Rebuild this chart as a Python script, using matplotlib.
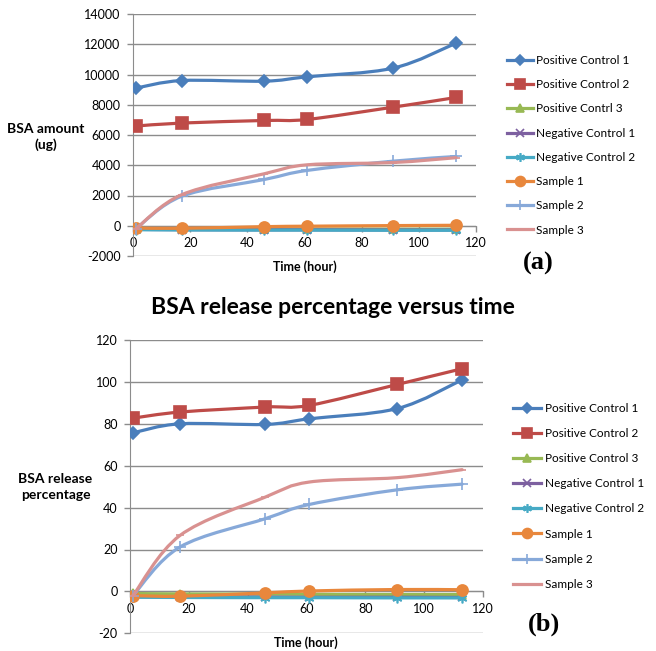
import numpy as np
import matplotlib
matplotlib.use("Agg")
import matplotlib.pyplot as plt
from matplotlib.path import Path
from matplotlib.patches import PathPatch
from matplotlib.lines import Line2D

plt.rcParams['font.family'] = ['Lato', 'DejaVu Sans']
plt.rcParams['axes.unicode_minus'] = False

# sampling times (hour)
hours = [1, 17, 46, 61, 91, 113]

names_a = ["Positive Control 1", "Positive Control 2", "Positive Contrl 3",
           "Negative Control 1", "Negative Control 2", "Sample 1", "Sample 2", "Sample 3"]
names_b = ["Positive Control 1", "Positive Control 2", "Positive Control 3",
           "Negative Control 1", "Negative Control 2", "Sample 1", "Sample 2", "Sample 3"]

# (a) BSA amount (ug)
pos1_amt = [9100, 9600, 9560, 9850, 10420, 12070]
pos2_amt = [6590, 6790, 6960, 7030, 7840, 8480]
pos3_amt = [-200, -210, -220, -220, -230, -230]
neg1_amt = [-240, -260, -270, -270, -280, -280]
neg2_amt = [-260, -280, -290, -290, -300, -300]
smp1_amt = [-150, -170, -60, -30, 10, 30]
smp2_amt = [-200, 1950, 3060, 3660, 4270, 4580]
smp3_amt = [-200, 2050, 3440, 4030, 4180, 4500]

# (b) BSA release percentage
pos1_pct = [75.7, 80.0, 79.7, 82.4, 87.3, 101.0]
pos2_pct = [82.7, 85.6, 88.0, 88.8, 98.8, 106.3]
pos3_pct = [-1.0, -1.2, -1.3, -1.4, -1.5, -1.5]
neg1_pct = [-2.5, -2.6, -2.7, -2.8, -2.8, -2.9]
neg2_pct = [-2.8, -2.9, -3.0, -3.0, -3.1, -3.1]
smp1_pct = [-2.0, -2.3, -0.7, 0.2, 0.9, 0.8]
smp2_pct = [-2.0, 21.2, 34.7, 41.5, 48.5, 51.2]
smp3_pct = [-2.0, 26.7, 45.0, 52.2, 54.3, 58.1]

colors = ["#4A7EBB", "#BE4B48", "#98B954", "#7D60A0", "#46AAC5", "#E8873C", "#87A9D9", "#D99190"]
markers = ["D", "s", "^", "x", (6, 2, 0), "o", "+", "_"]
msizes = [6, 8, 6, 6, 7, 8, 8, 6]
GRID = "#8C8C8C"


def smooth_path(x, y):
    # excel-like smoothed line (catmull-rom -> bezier)
    pts = np.column_stack([x, y]).astype(float)
    n = len(pts)
    verts = [pts[0]]
    codes = [Path.MOVETO]
    for i in range(n - 1):
        p0 = pts[max(i - 1, 0)]
        p1 = pts[i]
        p2 = pts[i + 1]
        p3 = pts[min(i + 2, n - 1)]
        verts += [p1 + (p2 - p0) / 6, p2 - (p3 - p1) / 6, p2]
        codes += [Path.CURVE4] * 3
    return Path(verts, codes)


def draw_panel(ax, series, names, ymin, ymax, ystep, ylabel, ylab_xy, tlab_y, leg_xy, handlelen, labsp):
    for i, vals in enumerate(series):
        patch = PathPatch(smooth_path(hours, vals), fill=False, edgecolor=colors[i],
                          lw=2.3, capstyle="round", joinstyle="round", zorder=3 + i)
        ax.add_patch(patch)
        ax.plot(hours, vals, ls="none", marker=markers[i], ms=msizes[i], color=colors[i],
                mec=colors[i], mew=1.2, zorder=3 + i)

    ax.set_xlim(0, 120)
    ax.set_ylim(ymin, ymax)
    ax.set_xticks(range(0, 121, 20))
    ax.set_yticks(range(ymin, ymax + 1, ystep))
    ax.yaxis.grid(True, color=GRID, lw=1.0)
    ax.set_axisbelow(True)
    for s in ["top", "right"]:
        ax.spines[s].set_visible(False)
    ax.spines["bottom"].set_position(("data", 0))
    ax.spines["bottom"].set_color(GRID)
    ax.spines["left"].set_color(GRID)
    ax.tick_params(axis="both", colors=GRID, labelcolor="black", labelsize=9, length=4, width=1)
    ax.tick_params(axis="y", pad=5)
    ax.tick_params(axis="x", pad=4)

    ax.text(0.5, tlab_y, "Time (hour)", transform=ax.transAxes, ha="center", va="center",
            fontsize=9, fontweight="bold")
    fig.text(ylab_xy[0], ylab_xy[1], ylabel, ha="center", va="center", fontsize=10,
             fontweight="bold", linespacing=1.35)

    handles = [Line2D([], [], color=colors[i], lw=2.3, marker=markers[i], ms=msizes[i] * 0.9,
                      mec=colors[i], mew=1.2) for i in range(len(series))]
    ax.legend(handles, names, loc="center left", bbox_to_anchor=leg_xy,
              bbox_transform=fig.transFigure, frameon=False, fontsize=8.5,
              handlelength=handlelen, handletextpad=0.3, labelspacing=labsp,
              borderpad=0, borderaxespad=0)


fig = plt.figure(figsize=(6.56, 6.51), dpi=100)
ax1 = fig.add_axes([133 / 656, 1 - 256 / 651, 343 / 656, 242 / 651])
ax2 = fig.add_axes([130 / 656, 1 - 633.3 / 651, 352.7 / 656, 293.3 / 651])

draw_panel(ax1, [pos1_amt, pos2_amt, pos3_amt, neg1_amt, neg2_amt, smp1_amt, smp2_amt, smp3_amt],
           names_a, -2000, 14000, 2000, "BSA amount\n(ug)", (46 / 656, 1 - 137 / 651),
           -0.045, (506.7 / 656, 1 - 145.3 / 651), 2.2, 1.12)
draw_panel(ax2, [pos1_pct, pos2_pct, pos3_pct, neg1_pct, neg2_pct, smp1_pct, smp2_pct, smp3_pct],
           names_b, -20, 120, 20, "BSA release\npercentage", (55.5 / 656, 1 - 487 / 651),
           -0.033, (513 / 656, 1 - 496.3 / 651), 2.4, 1.2)

fig.text(333 / 656, 1 - 308 / 651, "BSA release percentage versus time", ha="center", va="center",
         fontsize=16.5, fontweight="bold")
fig.text(538 / 656, 1 - 263 / 651, "(a)", ha="center", va="center", fontsize=19,
         fontweight="bold", family="Liberation Serif")
fig.text(544 / 656, 1 - 624 / 651, "(b)", ha="center", va="center", fontsize=19,
         fontweight="bold", family="Liberation Serif")

fig.savefig("out.png", dpi=100)
